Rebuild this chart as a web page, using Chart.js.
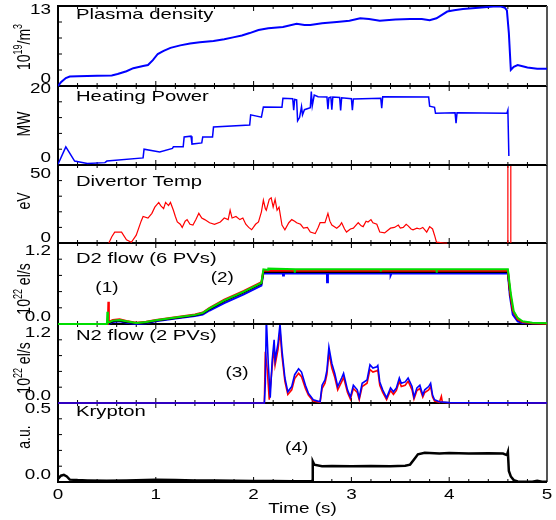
<!DOCTYPE html>
<html>
<head>
<meta charset="utf-8">
<script src="https://cdn.jsdelivr.net/npm/chart.js@4"></script>
<style>
body { margin: 0; background: #fff; }
#wrap { position: relative; width: 556px; height: 520px; }
#wrap canvas { position: absolute; left: 0; top: 0; }
</style>
</head>
<body>
<div id="wrap"></div>
<script>
// shared time axis (s)
const timeTicks = [0, 1, 2, 3, 4, 5];

// [time, value] pairs
const density = [[0,0],[0.03,0.6],[0.08,1.3],[0.12,1.55],[0.2,1.6],[0.4,1.65],[0.55,1.7],[0.61,1.95],[0.7,2.4],[0.77,2.9],[0.87,3.25],[0.92,3.4],[0.97,4.2],[1.02,5.2],[1.08,5.7],[1.15,6.2],[1.25,6.6],[1.35,6.9],[1.45,7.1],[1.59,7.3],[1.7,7.6],[1.79,7.9],[1.88,8.2],[1.96,8.6],[2.05,9.1],[2.15,9.4],[2.3,9.6],[2.44,10.1],[2.52,9.9],[2.58,9.9],[2.7,10.2],[2.85,10.4],[2.98,10.6],[3.09,11.0],[3.18,10.9],[3.29,10.6],[3.45,10.8],[3.6,10.9],[3.72,10.9],[3.8,10.7],[3.87,11.0],[3.93,11.6],[3.98,12.1],[4.05,12.3],[4.14,12.5],[4.3,12.7],[4.45,12.9],[4.53,12.9],[4.57,12.7],[4.59,12.3],[4.61,8.6],[4.63,2.6],[4.66,3.1],[4.7,3.4],[4.75,3.2],[4.8,3.0],[4.9,2.8],[5,2.8]];

const heatingPower = [[0,0.2],[0.08,4.6],[0.17,1.0],[0.3,0.4],[0.48,0.6],[0.5,1.0],[0.87,1.8],[0.88,4.0],[1.04,3.3],[1.17,4.2],[1.18,4.6],[1.28,4.6],[1.29,7.1],[1.36,7.3],[1.37,5.3],[1.47,5.6],[1.48,7.1],[1.58,7.1],[1.59,9.6],[1.96,10.1],[1.97,12.7],[2.08,12.1],[2.1,14.7],[2.29,14.6],[2.3,16.9],[2.4,16.8],[2.41,13.9],[2.42,16.6],[2.44,16.5],[2.45,11.2],[2.47,12.0],[2.49,14.8],[2.5,12.7],[2.52,14.0],[2.58,14.5],[2.59,18.6],[2.6,15.0],[2.62,17.7],[2.66,17.3],[2.75,17.2],[2.76,14.1],[2.77,17.0],[2.79,17.2],[2.8,14.0],[2.81,17.2],[2.88,17.1],[2.89,13.8],[2.9,17.0],[3.0,16.8],[3.01,13.9],[3.02,16.7],[3.3,16.9],[3.31,14.4],[3.32,17.3],[3.79,17.2],[3.8,14.9],[3.85,14.6],[3.86,13.1],[4.06,13.2],[4.07,10.6],[4.08,13.2],[4.59,13.1],[4.6,13.9],[4.61,2.3]];

const divertorTemp = [[0.52,0],[0.55,4],[0.58,7],[0.65,7],[0.7,2],[0.75,0.5],[0.8,5],[0.85,14],[0.87,17],[0.92,16],[0.96,19],[0.99,23],[1.03,26],[1.05,24],[1.08,22],[1.1,26],[1.13,24],[1.15,26],[1.18,21],[1.2,17],[1.22,13.5],[1.25,12],[1.27,10],[1.3,14],[1.32,15],[1.35,12],[1.38,11.5],[1.41,15],[1.44,19],[1.47,16],[1.5,15],[1.55,13],[1.6,12],[1.66,13.5],[1.7,16],[1.74,15],[1.76,21],[1.78,16],[1.82,17],[1.86,15],[1.89,16],[1.92,12],[1.95,10],[1.98,8.5],[2.02,12],[2.05,13.5],[2.08,20],[2.1,27.5],[2.12,22],[2.13,21],[2.16,28],[2.18,29],[2.2,23],[2.22,28],[2.24,21],[2.26,23],[2.29,11.5],[2.32,8.5],[2.36,13],[2.39,15],[2.42,14],[2.44,13],[2.48,12],[2.51,9.5],[2.55,10],[2.58,7],[2.63,6],[2.66,10],[2.68,13],[2.73,13],[2.76,19],[2.78,14],[2.8,11.5],[2.85,9.5],[2.88,11],[2.9,13],[2.93,9],[2.95,7],[2.99,9],[3.02,9.5],[3.07,13],[3.1,11],[3.12,10.5],[3.15,14],[3.17,13.5],[3.2,15],[3.22,13],[3.26,12],[3.29,7],[3.34,6.5],[3.37,8],[3.4,9.5],[3.44,10],[3.48,11.5],[3.5,9.5],[3.53,10],[3.56,12],[3.58,11],[3.61,9],[3.63,8.5],[3.67,9.5],[3.7,9],[3.73,10],[3.77,7],[3.8,10.5],[3.83,9],[3.85,5],[3.87,0.5],[3.95,0],[3.98,0],[4.2,null],[4.6,0],[4.6,80],[4.63,80],[4.63,0]];

const d2Green = [[0,0],[0.5,0],[0.505,0.18],[0.51,0.02],[0.56,0.05],[0.63,0.06],[0.7,0.04],[0.8,0.015],[0.9,0.03],[1.0,0.055],[1.2,0.095],[1.4,0.135],[1.48,0.165],[1.55,0.23],[1.7,0.35],[1.9,0.48],[2.08,0.61],[2.1,0.81],[2.15,0.8],[2.151,0.82],[2.42,0.81],[2.421,0.76],[2.425,0.81],[3.3,0.81],[3.301,0.78],[3.305,0.81],[3.87,0.81],[3.871,0.76],[3.875,0.81],[4.6,0.81],[4.63,0.45],[4.66,0.19],[4.7,0.09],[4.75,0.04],[4.85,0.02],[5,0.01]];
const d2Red = [[0,0],[0.51,0],[0.515,0.33],[0.52,0.03],[0.56,0.06],[0.63,0.07],[0.7,0.045],[0.8,0.02],[0.9,0.035],[1.0,0.06],[1.2,0.1],[1.4,0.14],[1.48,0.17],[1.55,0.24],[1.7,0.36],[1.9,0.49],[2.08,0.62],[2.1,0.79],[4.6,0.79],[4.62,0.5],[4.65,0.2],[4.7,0.07],[4.75,0.03],[4.85,0.01],[5,0.005]];
const d2Black = [[0,0],[0.5,0],[0.52,0.01],[0.56,0.04],[0.62,0.05],[0.7,0.03],[0.8,0.01],[0.9,0.02],[1.0,0.05],[1.2,0.09],[1.4,0.13],[1.48,0.16],[1.55,0.22],[1.7,0.34],[1.9,0.47],[2.08,0.6],[2.1,0.77],[4.6,0.77],[4.62,0.5],[4.65,0.2],[4.7,0.07],[4.75,0.03],[4.85,0.01],[5,0.005]];
const d2Blue = [[0,0],[0.52,0],[0.56,0.03],[0.63,0.04],[0.7,0.02],[0.8,0.0],[0.9,0.01],[1.0,0.04],[1.2,0.08],[1.4,0.12],[1.48,0.14],[1.55,0.2],[1.7,0.31],[1.9,0.44],[2.08,0.57],[2.1,0.75],[2.3,0.75],[2.301,0.72],[2.31,0.75],[2.75,0.75],[2.751,0.62],[2.76,0.75],[3.4,0.75],[3.401,0.72],[3.41,0.75],[4.6,0.75],[4.62,0.42],[4.65,0.14],[4.7,0.04],[4.75,0.015],[5,0.003]];

const n2Blue = [[0,0],[2.11,0],[2.12,0.3],[2.13,1.3],[2.15,0.6],[2.17,0.08],[2.19,0.65],[2.21,0.96],[2.22,0.65],[2.25,0.91],[2.27,1.2],[2.29,0.8],[2.32,0.38],[2.35,0.17],[2.39,0.25],[2.42,0.43],[2.46,0.52],[2.49,0.47],[2.53,0.27],[2.56,0.15],[2.61,0.05],[2.68,0.02],[2.7,0.27],[2.73,0.35],[2.75,0.5],[2.77,0.85],[2.8,0.6],[2.83,0.45],[2.86,0.25],[2.9,0.38],[2.92,0.45],[2.96,0.2],[2.99,0.09],[3.02,0.27],[3.06,0.2],[3.08,0.08],[3.11,0.3],[3.16,0.35],[3.19,0.58],[3.22,0.53],[3.26,0.55],[3.27,0.57],[3.29,0.32],[3.32,0.2],[3.36,0.08],[3.4,0.23],[3.43,0.17],[3.46,0.23],[3.49,0.38],[3.51,0.3],[3.55,0.32],[3.58,0.38],[3.62,0.25],[3.64,0.09],[3.67,0.23],[3.7,0.27],[3.73,0.12],[3.75,0.2],[3.79,0.25],[3.81,0.3],[3.83,0.12],[3.85,0.05],[3.9,0.02],[4.0,0.005],[5,0]];
const n2Red = [[0,0],[2.11,0],[2.12,0.78],[2.14,0.5],[2.16,0.05],[2.19,0.55],[2.21,0.85],[2.22,0.58],[2.25,0.82],[2.27,1.1],[2.29,0.72],[2.32,0.33],[2.35,0.13],[2.39,0.2],[2.42,0.37],[2.46,0.45],[2.49,0.4],[2.53,0.22],[2.56,0.12],[2.61,0.03],[2.68,0.01],[2.7,0.22],[2.73,0.3],[2.75,0.44],[2.77,0.76],[2.8,0.53],[2.83,0.39],[2.86,0.2],[2.9,0.32],[2.92,0.39],[2.96,0.16],[2.99,0.06],[3.02,0.22],[3.06,0.16],[3.08,0.05],[3.11,0.25],[3.16,0.3],[3.19,0.51],[3.22,0.47],[3.26,0.49],[3.27,0.5],[3.29,0.27],[3.32,0.16],[3.36,0.05],[3.4,0.19],[3.43,0.13],[3.46,0.19],[3.49,0.33],[3.51,0.25],[3.55,0.27],[3.58,0.33],[3.62,0.2],[3.64,0.06],[3.67,0.19],[3.7,0.22],[3.73,0.09],[3.75,0.16],[3.79,0.2],[3.81,0.25],[3.83,0.09],[3.85,0.03],[3.9,0.01],[3.92,0.1],[3.93,0.01],[4.0,0.003],[5,0]];

const krypton = [[0,0.02],[0.03,0.04],[0.06,0.045],[0.09,0.035],[0.12,0.015],[0.2,0.012],[0.3,0.01],[0.5,0.008],[0.7,0.01],[0.9,0.012],[1.0,0.014],[1.2,0.012],[1.4,0.01],[1.6,0.009],[1.8,0.008],[2.0,0.007],[2.2,0.006],[2.4,0.005],[2.6,0.005],[2.605,0.13],[2.62,0.11],[2.7,0.1],[2.8,0.102],[3.0,0.1],[3.2,0.102],[3.4,0.1],[3.55,0.103],[3.6,0.11],[3.65,0.15],[3.68,0.175],[3.75,0.185],[3.9,0.18],[4.0,0.183],[4.2,0.18],[4.4,0.182],[4.55,0.18],[4.59,0.17],[4.6,0.19],[4.61,0.07],[4.63,0.035],[4.66,0.012],[4.7,0.003],[4.85,0.002],[4.9,0.008],[4.95,0.002],[5,0.002]];

// y tick labels (bottom, top) of each panel
const densityTicks = ['0', '13'];
const powerTicks = ['0', '20'];
const tempTicks = ['0', '50'];
const d2Ticks = ['0.0', '1.2'];
const n2Ticks = ['0.0', '1.2'];
const kryptonTicks = ['0.0', '0.5'];

const FONT = '"Liberation Sans", Arial, sans-serif';
const SX = 1.35;

const panels = [
  { title: 'Plasma density', unit: [['10'], ['19', 1], ['/m'], ['3', 1]], min: 0, max: 13, ticks: densityTicks,
    top: 6, bottom: 86, titleY: 15, unitY: 47, lab: [4, -7],
    sets: [{ data: density, color: '#0000ff', w: 2 }] },
  { title: 'Heating Power', unit: [['MW']], min: 0, max: 20, ticks: powerTicks,
    top: 86, bottom: 165, titleY: 97, unitY: 124, lab: [3, -7],
    sets: [{ data: heatingPower, color: '#0000ff', w: 1.5 }] },
  { title: 'Divertor Temp', unit: [['eV']], min: 0, max: 50, ticks: tempTicks,
    top: 165, bottom: 243, titleY: 182, unitY: 201, lab: [9, -5],
    sets: [{ data: divertorTemp, color: '#ff0000', w: 1.2 }] },
  { title: 'D2 flow (6 PVs)', unit: [['10'], ['22', 1], [' el/s']], min: 0, max: 1.2, ticks: d2Ticks,
    top: 243, bottom: 324, titleY: 259, unitY: 289, lab: [8, -7],
    notes: [['(1)', 0.5, 0.53], ['(2)', 1.68, 0.68]],
    sets: [{ data: d2Green, color: '#00dd00', w: 2 }, { data: d2Red, color: '#ff0000', w: 2 },
           { data: d2Black, color: '#000000', w: 2 }, { data: d2Blue, color: '#0000ff', w: 2 }] },
  { title: 'N2 flow (2 PVs)', unit: [['10'], ['22', 1], [' el/s']], min: 0, max: 1.2, ticks: n2Ticks,
    top: 324, bottom: 403, titleY: 336, unitY: 368, lab: [9, -7],
    notes: [['(3)', 1.83, 0.46]],
    sets: [{ data: n2Blue, color: '#0000ff', w: 1.6 }, { data: n2Red, color: '#ff0000', w: 1.6 }] },
  { title: 'Krypton', unit: [['a.u.']], min: 0, max: 0.5, ticks: kryptonTicks,
    top: 403, bottom: 482, titleY: 412, unitY: 437, lab: [6, -7],
    notes: [['(4)', 2.44, 0.215]],
    sets: [{ data: krypton, color: '#000000', w: 2.5 }] }
];

function txt(ctx, s, x, y, size, align) {
  ctx.save();
  ctx.translate(x, y);
  ctx.scale(SX, 1);
  ctx.font = size + 'px ' + FONT;
  ctx.textAlign = align || 'left';
  ctx.textBaseline = 'middle';
  ctx.fillStyle = '#000';
  ctx.fillText(s, 0, 0);
  ctx.restore();
}

// rotated label with superscripts, centred on (x, y)
function unitLabel(ctx, parts, x, y, size) {
  ctx.save();
  ctx.translate(x, y);
  ctx.scale(SX, 1);
  ctx.rotate(-Math.PI / 2);
  ctx.fillStyle = '#000';
  ctx.textBaseline = 'alphabetic';
  ctx.textAlign = 'left';
  const f = sup => (sup ? Math.round(size * 0.62) : size) + 'px ' + FONT;
  let w = 0;
  parts.forEach(([s, sup]) => { ctx.font = f(sup); w += ctx.measureText(s).width; });
  let cx = -w / 2;
  parts.forEach(([s, sup]) => {
    ctx.font = f(sup);
    ctx.fillText(s, cx, sup ? size * 0.35 - size * 0.42 : size * 0.35);
    cx += ctx.measureText(s).width;
  });
  ctx.restore();
}

function idlAxes(p, last) {
  return {
    id: 'idlAxes',
    beforeDatasetsDraw(chart) {
      const ctx = chart.ctx;
      const { left, right, top, bottom } = chart.chartArea;
      const xs = chart.scales.x, ys = chart.scales.y;
      ctx.save();
      ctx.strokeStyle = '#000';
      ctx.lineWidth = 1;
      ctx.beginPath();
      for (let k = 0; k <= 25; k++) {
        const px = xs.getPixelForValue(k * 0.2);
        const len = k % 5 === 0 ? 5 : 3;
        ctx.moveTo(px, bottom); ctx.lineTo(px, bottom - len);
        ctx.moveTo(px, top); ctx.lineTo(px, top + len);
      }
      for (let k = 1; k < 5; k++) {
        const py = ys.getPixelForValue(p.min + (p.max - p.min) * k / 5);
        ctx.moveTo(left, py); ctx.lineTo(left + 4, py);
      }
      ctx.stroke();
      ctx.lineWidth = 2;
      ctx.beginPath();
      ctx.moveTo(right, top); ctx.lineTo(left, top); ctx.lineTo(left, bottom); ctx.lineTo(right, bottom);
      ctx.stroke();
      ctx.strokeStyle = '#555';
      ctx.beginPath();
      ctx.moveTo(right, top); ctx.lineTo(right, bottom);
      ctx.stroke();
      ctx.restore();
    },
    afterDraw(chart) {
      const ctx = chart.ctx;
      const { left, right } = chart.chartArea;
      const xs = chart.scales.x, ys = chart.scales.y;
      txt(ctx, p.ticks[0], 51, ys.getPixelForValue(p.min) + p.lab[1], 14, 'right');
      txt(ctx, p.ticks[1], 51, ys.getPixelForValue(p.max) + p.lab[0], 14, 'right');
      txt(ctx, p.title, 76, p.titleY, 15, 'left');
      unitLabel(ctx, p.unit, 23, p.unitY, 14);
      (p.notes || []).forEach(([s, t, v]) => txt(ctx, s, xs.getPixelForValue(t), ys.getPixelForValue(v), 14, 'center'));
      if (last) {
        timeTicks.forEach(t => txt(ctx, String(t), xs.getPixelForValue(t), 495, 14, 'center'));
        txt(ctx, 'Time (s)', (left + right) / 2, 509, 14, 'center');
      }
    }
  };
}

const wrap = document.getElementById('wrap');
// bottom panel first so each upper panel's traces sit above the next frame
panels.slice().reverse().forEach((p) => {
  const last = p === panels[panels.length - 1];
  const cv = document.createElement('canvas');
  cv.width = 556; cv.height = 520;
  cv.style.width = '556px'; cv.style.height = '520px';
  wrap.appendChild(cv);
  new Chart(cv, {
    type: 'line',
    data: {
      datasets: p.sets.map(s => ({
        data: s.data.map(([x, y]) => ({ x, y })),
        borderColor: s.color,
        borderWidth: s.w,
        pointRadius: 0,
        tension: 0,
        fill: false,
        clip: { left: 0, right: 0, top: 0, bottom: 2 }
      }))
    },
    options: {
      responsive: false,
      animation: false,
      devicePixelRatio: 1,
      events: [],
      layout: { padding: { left: 58, right: 9, top: p.top, bottom: 520 - p.bottom } },
      scales: {
        x: { type: 'linear', min: 0, max: 5, display: false },
        y: { type: 'linear', min: p.min, max: p.max, display: false }
      },
      plugins: { legend: { display: false }, tooltip: { enabled: false } }
    },
    plugins: [idlAxes(p, last)]
  });
});
</script>
</body>
</html>
